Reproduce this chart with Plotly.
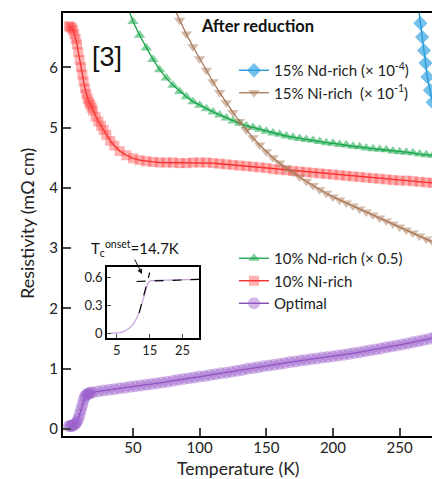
import plotly.graph_objects as go

# ---------------- data ----------------
T_red = [2, 3, 4, 5, 6, 7, 8, 9, 10, 11, 12, 13, 14, 15, 16, 17, 18, 19, 20, 22, 24, 26, 28, 30, 33, 36, 40,
         45, 50, 55, 60, 65, 70, 75, 80, 85, 90, 95, 100, 105, 110, 115, 120, 125, 130, 135, 140, 145, 150,
         155, 160, 165, 170, 175, 180, 185, 190, 195, 200, 205, 210, 215, 220, 225, 230, 235, 240, 245, 250,
         255, 260, 265, 270, 275, 280]
R_red = [6.68, 6.67, 6.65, 6.62, 6.55, 6.47, 6.38, 6.25, 6.12, 6.00, 5.88, 5.76, 5.65, 5.56, 5.48, 5.42, 5.38,
         5.33, 5.28, 5.18, 5.10, 5.03, 4.96, 4.88, 4.78, 4.70, 4.61, 4.54, 4.49, 4.46, 4.44, 4.43, 4.42, 4.42,
         4.42, 4.41, 4.41, 4.42, 4.42, 4.42, 4.41, 4.40, 4.39, 4.38, 4.37, 4.36, 4.35, 4.34, 4.33, 4.31, 4.30,
         4.29, 4.28, 4.27, 4.26, 4.25, 4.24, 4.23, 4.22, 4.21, 4.20, 4.19, 4.18, 4.17, 4.16, 4.15, 4.14, 4.13,
         4.12, 4.12, 4.11, 4.10, 4.09, 4.08, 4.07]

T_green = [45, 50, 55, 60, 65, 70, 75, 80, 85, 90, 95, 100, 105, 110, 115, 120, 125, 130, 135, 140, 145, 150,
           155, 160, 165, 170, 175, 180, 185, 190, 195, 200, 205, 210, 215, 220, 225, 230, 235, 240, 245, 250,
           255, 260, 265, 270, 275, 280]
R_green = [7.05, 6.76, 6.53, 6.32, 6.13, 5.96, 5.82, 5.70, 5.60, 5.51, 5.43, 5.37, 5.31, 5.26, 5.21, 5.16, 5.11,
           5.07, 5.03, 5.00, 4.97, 4.94, 4.91, 4.89, 4.86, 4.84, 4.82, 4.80, 4.79, 4.77, 4.75, 4.74, 4.72, 4.71,
           4.69, 4.68, 4.66, 4.65, 4.64, 4.63, 4.61, 4.60, 4.59, 4.58, 4.56, 4.55, 4.54, 4.53]

T_brown = [80, 85, 90, 95, 100, 105, 110, 115, 120, 125, 130, 135, 140, 145, 150, 155, 160, 165, 170, 175, 180,
           185, 190, 195, 200, 205, 210, 215, 220, 225, 230, 235, 240, 245, 250, 255, 260, 265, 270, 275, 280]
R_brown = [7.02, 6.78, 6.55, 6.34, 6.14, 5.95, 5.76, 5.58, 5.41, 5.25, 5.10, 4.96, 4.83, 4.71, 4.60, 4.50, 4.41,
           4.33, 4.26, 4.18, 4.11, 4.04, 3.97, 3.91, 3.85, 3.80, 3.75, 3.70, 3.65, 3.60, 3.55, 3.50, 3.45, 3.40,
           3.35, 3.30, 3.25, 3.20, 3.15, 3.10, 3.05]

T_blue = [264.0, 265.6, 266.9, 268.3, 269.5, 270.8, 272.8, 274.8]
R_blue = [7.02, 6.73, 6.50, 6.28, 6.07, 5.84, 5.62, 5.42]

T_purple = [2, 3, 4, 5, 6, 7, 8, 9, 10, 11, 12, 13, 14, 15, 16, 17, 18, 20, 24, 28, 32, 36, 40, 44, 48, 52, 56,
            60, 64, 68, 72, 76, 80, 84, 88, 92, 96, 100, 104, 108, 112, 116, 120, 124, 128, 132, 136, 140, 144,
            148, 152, 156, 160, 164, 168, 172, 176, 180, 184, 188, 192, 196, 200, 204, 208, 212, 216, 220, 224,
            228, 232, 236, 240, 244, 248, 252, 256, 260, 264, 268, 272, 276, 280]
R_purple = [0.05, 0.05, 0.05, 0.06, 0.07, 0.09, 0.12, 0.17, 0.24, 0.32, 0.40, 0.48, 0.54, 0.57, 0.58, 0.59, 0.60,
            0.61, 0.625, 0.64, 0.65, 0.66, 0.675, 0.685, 0.70, 0.71, 0.72, 0.735, 0.745, 0.76, 0.77, 0.785, 0.80,
            0.815, 0.83, 0.84, 0.855, 0.87, 0.88, 0.895, 0.91, 0.925, 0.935, 0.95, 0.965, 0.98, 1.00, 1.01, 1.025,
            1.04, 1.055, 1.065, 1.08, 1.095, 1.11, 1.12, 1.135, 1.145, 1.16, 1.17, 1.185, 1.195, 1.205, 1.22,
            1.23, 1.245, 1.26, 1.275, 1.29, 1.305, 1.32, 1.335, 1.355, 1.37, 1.385, 1.40, 1.42, 1.44, 1.455,
            1.475, 1.495, 1.515, 1.535]

# inset data
T_inset = [3, 4, 5, 6, 7, 8, 9, 10, 11, 12, 12.5, 13, 13.5, 14, 14.5, 15, 15.5, 16, 17, 18, 20, 22, 25, 28, 30]
R_inset = [0.0, 0.0, 0.002, 0.008, 0.018, 0.035, 0.06, 0.10, 0.16, 0.25, 0.31, 0.37, 0.43, 0.49, 0.54, 0.56,
           0.565, 0.565, 0.566, 0.567, 0.569, 0.571, 0.573, 0.575, 0.577]
T_fit_flat = [11, 30]
R_fit_flat = [0.555, 0.577]
T_fit_steep = [11.8, 15.0]
R_fit_steep = [0.22, 0.65]

main_ticks = [50, 100, 150, 200, 250]
y_ticks = [0, 1, 2, 3, 4, 5, 6]

FONT = "Lato"

# ---------------- figure ----------------
fig = go.Figure()

def add_series(x, y, name, sym, size, mcol, lcol, legend):
    fig.add_trace(go.Scatter(
        x=x, y=y, name=name, mode="lines+markers", legend=legend,
        line=dict(color=lcol, width=1.3),
        marker=dict(symbol=sym, size=size, color=mcol, line=dict(width=0)),
    ))

add_series(T_purple, R_purple, "Optimal", "circle", 12, "rgba(155,95,205,0.45)", "rgb(120,60,170)", "legend2")
add_series(T_red, R_red, "10% Ni-rich", "square", 10, "rgba(255,60,60,0.4)", "rgb(240,30,30)", "legend2")
add_series(T_green, R_green, "10% Nd-rich (× 0.5)", "triangle-up", 10, "rgba(30,170,80,0.55)", "rgb(20,160,70)", "legend2")
add_series(T_brown, R_brown, "15% Ni-rich  (× 10<sup>-1</sup>)", "triangle-down", 10, "rgba(170,120,85,0.5)", "rgb(165,120,90)", "legend")
add_series(T_blue, R_blue, "15% Nd-rich (× 10<sup>-4</sup>)", "diamond", 11, "rgba(40,160,225,0.65)", "rgb(30,140,210)", "legend")

# inset
fig.add_trace(go.Scatter(x=T_inset, y=R_inset, mode="lines", line=dict(color="rgb(200,160,220)", width=1.2),
                         xaxis="x2", yaxis="y2", showlegend=False))
fig.add_trace(go.Scatter(x=T_fit_flat, y=R_fit_flat, mode="lines", line=dict(color="black", width=1.2, dash="dash"),
                         xaxis="x2", yaxis="y2", showlegend=False))
fig.add_trace(go.Scatter(x=T_fit_steep, y=R_fit_steep, mode="lines", line=dict(color="black", width=1.2, dash="dash"),
                         xaxis="x2", yaxis="y2", showlegend=False))

W, H = 432, 479
L, R, T, B = 63, 0, 13, 43
pw, ph = W - L - R, H - T - B

def px(xp):
    return (xp - L) / pw

def py(yp):
    return (H - B - yp) / ph

tickfont = dict(family=FONT, size=15, color="#222")

fig.update_layout(
    width=W, height=H, margin=dict(l=L, r=R, t=T, b=B),
    paper_bgcolor="white", plot_bgcolor="white",
    font=dict(family=FONT, color="#222"),
    xaxis=dict(range=[-2.5, 274.3], tickvals=main_ticks, ticks="inside", ticklen=8, tickwidth=2,
               showline=True, linewidth=2, linecolor="black", mirror=True, showgrid=False, zeroline=False,
               tickfont=tickfont, ticklabelstandoff=-3),
    yaxis=dict(range=[-0.116, 6.90], tickvals=y_ticks, ticks="inside", ticklen=8, tickwidth=2,
               showline=True, linewidth=2, linecolor="black", showgrid=False, zeroline=False,
               tickfont=tickfont),
    xaxis2=dict(domain=[px(107), px(199)], anchor="y2", range=[2, 30], tickvals=[5, 15, 25],
                ticks="inside", ticklen=4, showline=True, linewidth=1.5, linecolor="black", mirror=True,
                showgrid=False, zeroline=False, tickfont=dict(family=FONT, size=13, color="#222")),
    yaxis2=dict(domain=[py(338), py(267)], anchor="x2", range=[-0.05, 0.71], tickvals=[0, 0.3, 0.6],
                ticktext=["0", "0.3", "0.6"], ticks="inside", ticklen=4, showline=True, linewidth=1.5,
                linecolor="black", mirror=True, showgrid=False, zeroline=False,
                tickfont=dict(family=FONT, size=13, color="#222")),
    legend=dict(x=px(234), y=py(54), xanchor="left", yanchor="top", bgcolor="rgba(0,0,0,0)",
                font=dict(family=FONT, size=15, color="#222"), traceorder="reversed", tracegroupgap=0),
    legend2=dict(x=px(234), y=py(242), xanchor="left", yanchor="top", bgcolor="rgba(0,0,0,0)",
                 font=dict(family=FONT, size=15, color="#222"), traceorder="reversed", tracegroupgap=0),
    showlegend=True,
)

fig.add_annotation(text="Temperature (K)", xref="paper", yref="paper", x=px(238), y=py(468),
                   showarrow=False, font=dict(family=FONT, size=17.5, color="#222"), xanchor="center", yanchor="middle")
fig.add_annotation(text="Resistivity (mΩ cm)", xref="paper", yref="paper", x=px(27), y=py(224),
                   textangle=-90, showarrow=False, font=dict(family=FONT, size=18, color="#222"),
                   xanchor="center", yanchor="middle")
fig.add_annotation(text="<b>After reduction</b>", xref="paper", yref="paper", x=px(199), y=py(26),
                   showarrow=False, font=dict(family=FONT, size=16.5, color="#111"), xanchor="left", yanchor="middle")
fig.add_annotation(text="[3]", xref="paper", yref="paper", x=px(90), y=py(57),
                   showarrow=False, font=dict(family="Liberation Sans", size=27, color="#111"),
                   xanchor="left", yanchor="middle")
fig.add_annotation(text="T<sub>c</sub><sup>onset</sup>=14.7K", xref="paper", yref="paper", x=px(89), y=py(249),
                   showarrow=False, font=dict(family=FONT, size=15, color="#111"), xanchor="left", yanchor="middle")
fig.add_annotation(text="", xref="paper", yref="paper", x=px(142), y=py(274), ax=-8, ay=-16,
                   showarrow=True, arrowhead=2, arrowsize=1, arrowwidth=1, arrowcolor="#111")

fig.write_html("out.html")
